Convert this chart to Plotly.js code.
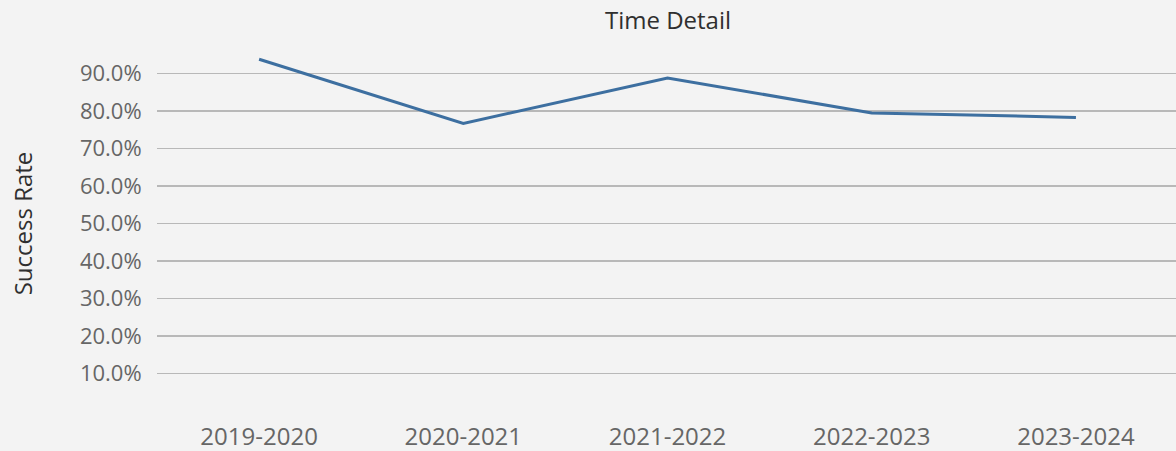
<!DOCTYPE html>
<html>
<head>
<meta charset="utf-8">
<script src="https://cdn.plot.ly/plotly-3.0.1.min.js"></script>
<style>
  html, body { margin: 0; padding: 0; background: #f3f3f3; }
  #chart { width: 1176px; height: 451px; }
</style>
</head>
<body>
<div id="chart"></div>
<script>
// School years and their success rate
const years = ['2019-2020', '2020-2021', '2021-2022', '2022-2023', '2023-2024'];
const successRate = [0.938, 0.767, 0.888, 0.795, 0.783];
const rateTicks = [0.1, 0.2, 0.3, 0.4, 0.5, 0.6, 0.7, 0.8, 0.9];

const font = 'Open Sans, Lato, sans-serif';

const trace = {
  x: years,
  y: successRate,
  type: 'scatter',
  mode: 'lines',
  line: { color: '#3d6fa0', width: 3 },
  hovertemplate: '%{x}<br>%{y:.1%}<extra></extra>'
};

const layout = {
  width: 1176,
  height: 451,
  paper_bgcolor: '#f3f3f3',
  plot_bgcolor: '#f3f3f3',
  margin: { l: 157, r: 0, t: 36, b: 40 },
  showlegend: false,
  title: {
    text: 'Time Detail',
    font: { family: font, size: 24, color: '#2f2f2f' },
    x: 668 / 1176, xanchor: 'center', xref: 'container',
    y: 1 - 21 / 451, yanchor: 'middle', yref: 'container'
  },
  xaxis: {
    type: 'category',
    range: [-0.5, 4.49],
    showgrid: false,
    zeroline: false,
    showline: false,
    ticks: 'outside',
    ticklen: 4,
    tickcolor: 'rgba(0,0,0,0)',
    tickfont: { family: font, size: 24, color: '#666666' },
    fixedrange: true
  },
  yaxis: {
    range: [0, 1],
    tickvals: rateTicks,
    ticktext: rateTicks.map(v => (v * 100).toFixed(1) + '%'),
    showgrid: true,
    gridcolor: '#b8b8b8',
    gridwidth: 1.5,
    zeroline: false,
    showline: false,
    ticks: 'outside',
    ticklen: 10,
    tickcolor: 'rgba(0,0,0,0)',
    tickfont: { family: font, size: 22, color: '#666666' },
    title: {
      text: 'Success Rate',
      font: { family: font, size: 24, color: '#2f2f2f' },
      standoff: 40
    },
    automargin: false,
    fixedrange: true
  }
};

Plotly.newPlot('chart', [trace], layout, { displayModeBar: false, staticPlot: true });
</script>
</body>
</html>
